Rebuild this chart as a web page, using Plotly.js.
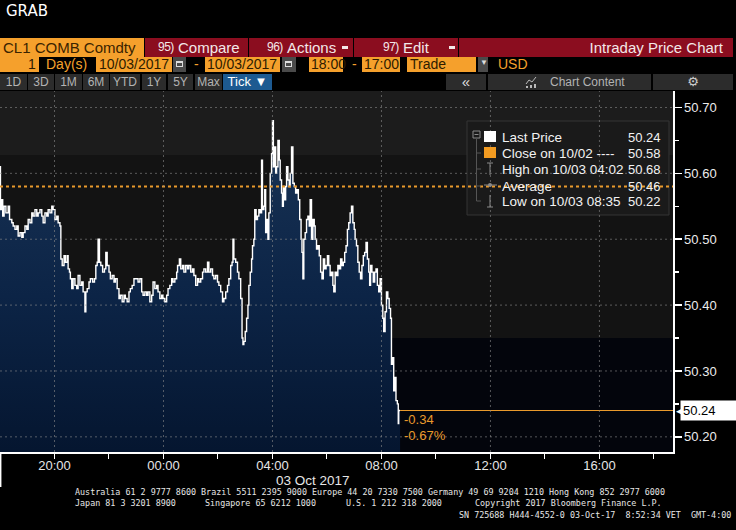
<!DOCTYPE html>
<html><head><meta charset="utf-8">
<script src="https://cdn.plot.ly/plotly-3.0.1.min.js"></script>
<style>
html,body{margin:0;padding:0;background:#000;width:736px;height:530px;overflow:hidden;font-family:"Liberation Sans",Arial,sans-serif;}
#chart{position:absolute;left:0;top:0;width:736px;height:530px;}
.b{position:absolute;box-sizing:border-box;white-space:nowrap;}
.t{position:absolute;white-space:nowrap;}
.r1{top:38px;height:19px;background:#8b0d1f;}
.r1t{top:38px;line-height:19px;font-size:15px;color:#f3e8e8;}
.r1n{top:38px;line-height:19px;font-size:12px;color:#f3e8e8;letter-spacing:-0.5px;}
.or{top:57px;height:15px;background:#f5a02c;}
.ort{top:57px;line-height:15px;font-size:14px;color:#2e1c00;}
.gr{top:57px;height:15px;background:#4a4a4a;}
.ot{top:57px;line-height:15px;font-size:14px;color:#f5a02c;}
.btn{top:74px;height:16px;background:#2c2c2c;color:#b3b3b3;font-size:12px;line-height:16px;text-align:center;}
.ft{font-family:"DejaVu Sans Mono",monospace;font-size:8.4px;color:#e6e6e6;}
</style></head><body>
<div id="chart"></div>

<div class="t" style="left:6px;top:2px;font:15px 'DejaVu Sans';color:#fff">GRAB</div>

<div class="b" style="left:0;top:38px;width:144px;height:19px;background:#f5a02c"></div>
<div class="t" style="left:3px;top:38px;line-height:19px;font-size:15px;color:#3a2300">CL1 COMB Comdty</div>
<div class="b r1" style="left:145px;width:103px"></div>
<div class="b r1" style="left:249px;width:104px"></div>
<div class="b r1" style="left:354px;width:104px"></div>
<div class="b r1" style="left:459px;width:274px"></div>
<div class="t r1n" style="left:158px">95)</div><div class="t r1t" style="left:178px">Compare</div>
<div class="t r1n" style="left:267px">96)</div><div class="t r1t" style="left:287px">Actions</div>
<div class="b" style="left:342px;top:46px;width:6px;height:3px;background:#f3e8e8"></div>
<div class="t r1n" style="left:383px">97)</div><div class="t r1t" style="left:403px">Edit</div>
<div class="b" style="left:449px;top:46px;width:6px;height:3px;background:#f3e8e8"></div>
<div class="t r1t" style="right:13px">Intraday Price Chart</div>

<div class="b or" style="left:0;width:39px"></div><div class="t ort" style="left:28px">1</div>
<div class="t ot" style="left:46px">Day(s)</div>
<div class="b or" style="left:96px;width:76px"></div><div class="t ort" style="left:99px">10/03/2017</div>
<div class="b gr" style="left:173px;width:13px"></div><div class="b" style="left:176px;top:61px;width:7px;height:6px;border:1px solid #ddd;border-top-width:2px"></div>
<div class="t ot" style="left:194px">-</div>
<div class="b or" style="left:205px;width:75px"></div><div class="t ort" style="left:207px">10/03/2017</div>
<div class="b gr" style="left:282px;width:14px"></div><div class="b" style="left:285px;top:61px;width:7px;height:6px;border:1px solid #ddd;border-top-width:2px"></div>
<div class="b or" style="left:309px;width:34px"></div><div class="t ort" style="left:311px">18:00</div>
<div class="t ot" style="left:352px">-</div>
<div class="b or" style="left:362px;width:38px"></div><div class="t ort" style="left:364px">17:00</div>
<div class="b or" style="left:407px;width:69px"></div><div class="t ort" style="left:410px">Trade</div>
<div class="b gr" style="left:478px;width:10px"></div><div class="t" style="left:480px;top:58px;font-size:8px;color:#ddd">▼</div>
<div class="t ot" style="left:498px">USD</div>

<div class="b btn" style="left:0;width:27px">1D</div>
<div class="b btn" style="left:28px;width:26px">3D</div>
<div class="b btn" style="left:55px;width:27px">1M</div>
<div class="b btn" style="left:83px;width:26px">6M</div>
<div class="b btn" style="left:110px;width:30px">YTD</div>
<div class="b btn" style="left:142px;width:24px">1Y</div>
<div class="b btn" style="left:168px;width:25px">5Y</div>
<div class="b btn" style="left:195px;width:27px">Max</div>
<div class="b btn" style="left:223px;width:49px;background:#1d5a91;color:#fff;font-size:13px">Tick ▼</div>
<div class="b btn" style="left:446px;width:40px;color:#ddd;font-size:15px">«</div>
<div class="b btn" style="left:488px;width:163px;text-align:left;padding-left:62px;font-size:12px">Chart Content</div>
<svg style="position:absolute;left:525px;top:76px" width="12" height="12"><polyline points="1,8 4,4 7,6 11,1" fill="none" stroke="#bbb" stroke-width="1"/><rect x="1" y="10" width="2" height="2" fill="#bbb"/><rect x="5" y="9" width="2" height="3" fill="#bbb"/><rect x="9" y="8" width="2" height="4" fill="#bbb"/></svg>
<div class="b btn" style="left:653px;width:80px;color:#ccc;font-size:13px;font-family:'DejaVu Sans'">⚙</div>

<div class="t ft" style="left:75px;top:487px">Australia 61 2 9777 8600 Brazil 5511 2395 9000 Europe 44 20 7330 7500 Germany 49 69 9204 1210 Hong Kong 852 2977 6000</div>
<div class="t ft" style="left:75px;top:498px">Japan 81 3 3201 8900</div>
<div class="t ft" style="left:205px;top:498px">Singapore 65 6212 1000</div>
<div class="t ft" style="left:346px;top:498px">U.S. 1 212 318 2000</div>
<div class="t ft" style="left:475px;top:498px">Copyright 2017 Bloomberg Finance L.P.</div>
<div class="t ft" style="left:459px;top:510px">SN 725688 H444-4552-0 03-Oct-17&nbsp; 8:52:34 VET&nbsp; GMT-4:00</div>

<script>
// ---------- data (minutes after 2017-10-02 18:00, price) ----------
const tickMinutes = [
  0,1,4,6,9,13,18,21,26,29, 33,37,40,44,48,51,55,59,62,66,
  70,73,77,81,84,88,92,95,99,103, 106,110,114,117,121,125,128,132,134,137,
  141,144,148,150,153,155,158,161,165,169, 172,176,180,183,187,189,192,196,199,204,
  208,211,214,216,219,222,226,230,233,236, 240,243,247,251,254,258,262,265,269,273,
  276,280,284,287,291,295,
  301,304,308,312,315,319,323,326,330,334, 337,341,345,348,352,356,359,363,367,370,
  374,378,381,385,389,391,395,398,402,405, 409,413,416,420,424,427,431,435,438,442,
  446,449,453,457,460,464,468,471,475,479, 482,486,490,493,497,501,504,508,511,513,
  515,519,523,526,530,533,535,537,540,543, 546,548,551,554,556,559,561,564,567,570,
  573,576,578,581,583,585,588,590,592,
  595,598,600,602,605,607,609,612,615,617, 620,622,624,627,629,631,634,637,639,642,
  645,648,651,654,657,660,663,665,667,669, 672,675,678,681,683,686,689,692,694,697,
  700,703,706,709,712,715,718,721,724,727, 730,733,735,738,741,744,747,750,753,756,
  759,762,765,768,771,774,777,780,782,785, 788,791,794,797,800,803,806,809,812,814,
  816,819,822,825,828,831,834,837,840,843, 845,848,851,854,857,860,862,865,867,870,
  872,875,877,878,881
];
const tickPrices = [
  50.61,50.545,50.56,50.535,50.55,50.54,50.55,50.53,50.525,50.52, 50.515,50.52,50.505,50.51,50.503,50.51,50.52,50.515,50.53,50.525,
  50.54,50.535,50.545,50.535,50.54,50.545,50.535,50.525,50.54,50.535, 50.545,50.54,50.55,50.545,50.53,50.535,50.525,50.52,50.47,50.46,
  50.475,50.465,50.475,50.455,50.45,50.44,50.425,50.44,50.43,50.425, 50.445,50.43,50.435,50.42,50.39,50.42,50.425,50.435,50.44,50.435,
  50.44,50.46,50.465,50.50,50.465,50.46,50.45,50.455,50.48,50.46, 50.45,50.44,50.445,50.435,50.44,50.425,50.41,50.415,50.405,50.415,
  50.41,50.405,50.42,50.425,50.43,50.44,
  50.44,50.435,50.44,50.42,50.415,50.42,50.415,50.42,50.405,50.415, 50.435,50.425,50.43,50.42,50.41,50.415,50.41,50.405,50.415,50.425,
  50.43,50.44,50.435,50.44,50.45,50.46,50.47,50.455,50.46,50.45, 50.46,50.455,50.46,50.45,50.455,50.445,50.43,50.44,50.435,50.44,
  50.45,50.455,50.45,50.465,50.45,50.455,50.445,50.44,50.445,50.435, 50.43,50.42,50.405,50.41,50.42,50.43,50.44,50.46,50.465,50.50,
  50.47,50.465,50.45,50.44,50.41,50.35,50.34,50.345,50.36,50.38, 50.40,50.43,50.45,50.47,50.49,50.50,50.545,50.53,50.535,50.545,
  50.54,50.62,50.545,50.55,50.575,50.51,50.53,50.50,50.54,
  50.60,50.63,50.68,50.61,50.64,50.60,50.61,50.65,50.62,50.59, 50.57,50.55,50.58,50.56,50.58,50.61,50.59,50.58,50.60,50.64,
  50.585,50.58,50.57,50.575,50.56,50.53,50.50,50.48,50.44,50.50, 50.51,50.53,50.535,50.52,50.56,50.50,50.53,50.52,50.50,50.485,
  50.49,50.475,50.45,50.44,50.47,50.455,50.46,50.475,50.46,50.445, 50.45,50.43,50.42,50.45,50.445,50.46,50.455,50.47,50.46,50.465,
  50.48,50.49,50.515,50.525,50.54,50.55,50.525,50.515,50.50,50.49, 50.465,50.45,50.44,50.46,50.475,50.48,50.495,50.47,50.45,50.43,
  50.46,50.45,50.435,50.45,50.455,50.43,50.42,50.44,50.40,50.38, 50.36,50.39,50.42,50.41,50.395,50.38,50.31,50.32,50.27,50.29,
  50.255,50.25,50.22,50.24,50.24
];
const closePrev = 50.58;
const lastPrice = 50.24;
const legendLabels = ['Last Price','Close on 10/02 ----','High on 10/03 04:02','Average','Low on 10/03 08:35'];
const legendValues = ['50.24','50.58','50.68','50.46','50.22'];
const xTickTimes = ['2017-10-02 20:00','2017-10-03 00:00','2017-10-03 04:00','2017-10-03 08:00','2017-10-03 12:00','2017-10-03 16:00'];
const xTickLabels = ['20:00','00:00','04:00','08:00','12:00','16:00'];
const yTickVals = [50.2,50.3,50.4,50.5,50.6,50.7];
const dateLabel = '03 Oct 2017';
const X0 = '2017-10-02 18:00', X1 = '2017-10-03 18:42';

// ---------- build ----------
function tstr(m){const d=new Date(Date.UTC(2017,9,2,18,0)+m*60000);return d.toISOString().slice(0,16).replace('T',' ');}
const times = tickMinutes.map(tstr);
const lastTime = times[times.length-1];

const PR=673, PT=91, PB=452;
const px = x => x/PR;
const py = y => (PB-y)/(PB-PT);
const FONT = '"Liberation Sans", Arial, sans-serif';
const ORANGE = '#e99a2c';

const traces = [
  {x:times, y:tickPrices, type:'scatter', mode:'lines', line:{color:'#ffffff',width:1.4,shape:'hv'},
   fill:'tozeroy', fillgradient:{type:'vertical', start:50.18, stop:50.70,
     colorscale:[[0,'#051630'],[0.45,'#0c2446'],[1,'#1a3557']]}, hoverinfo:'skip'},
  {x:[X0,X1], y:[closePrev,closePrev], type:'scatter', mode:'lines', line:{color:ORANGE,width:2,dash:'dot'}, hoverinfo:'skip'},
  {x:[lastTime,X1], y:[lastPrice,lastPrice], type:'scatter', mode:'lines', line:{color:ORANGE,width:1}, hoverinfo:'skip'}
];

const shapes = [
  {type:'rect',layer:'below',xref:'paper',yref:'y',x0:0,x1:1,y0:50.628,y1:50.76,fillcolor:'#1c1c1c',line:{width:0}},
  {type:'rect',layer:'below',xref:'paper',yref:'y',x0:0,x1:1,y0:50.35,y1:50.628,fillcolor:'#131313',line:{width:0}},
  {type:'rect',layer:'below',xref:'paper',yref:'y',x0:0,x1:1,y0:50.1,y1:50.35,fillcolor:'#03050c',line:{width:0}},
  // legend box
  {type:'rect',layer:'below',xref:'paper',yref:'paper',x0:px(467),x1:px(669),y0:py(215),y1:py(121),fillcolor:'#1a1a1a',line:{color:'#353535',width:1}}
];
const GRID = {color:'rgba(140,140,140,0.6)',width:1,dash:'2px,3px'};
xTickTimes.forEach(t=>shapes.push({type:'line',layer:'above',xref:'x',yref:'paper',x0:t,x1:t,y0:0,y1:1,line:GRID}));
yTickVals.forEach(v=>shapes.push({type:'line',layer:'above',xref:'paper',yref:'y',x0:0,x1:1,y0:v,y1:v,line:GRID}));
// left date divider
shapes.push({type:'line',xref:'paper',yref:'paper',x0:0.001,x1:0.001,y0:0,y1:py(487),line:{color:'#fff',width:1.5}});
// legend icons
const G='#8a8a8a';
const rowY=[137,153,169,186,201];
shapes.push({type:'rect',xref:'paper',yref:'paper',x0:px(473),x1:px(480),y0:py(138),y1:py(131),line:{color:G,width:1}});
shapes.push({type:'line',xref:'paper',yref:'paper',x0:px(474.5),x1:px(478.5),y0:py(134.5),y1:py(134.5),line:{color:G,width:1}});
shapes.push({type:'line',xref:'paper',yref:'paper',x0:px(476.5),x1:px(476.5),y0:py(139),y1:py(201),line:{color:'#555',width:1}});
rowY.slice(1).forEach(y=>shapes.push({type:'line',xref:'paper',yref:'paper',x0:px(476.5),x1:px(481),y0:py(y),y1:py(y),line:{color:'#555',width:1}}));
shapes.push({type:'rect',xref:'paper',yref:'paper',x0:px(484),x1:px(496),y0:py(142),y1:py(131),fillcolor:'#fff',line:{width:0}});
shapes.push({type:'rect',xref:'paper',yref:'paper',x0:px(484),x1:px(496),y0:py(158),y1:py(147),fillcolor:'#f29b21',line:{width:0}});
// high icon
shapes.push({type:'line',xref:'paper',yref:'paper',x0:px(490),x1:px(490),y0:py(175),y1:py(163),line:{color:G,width:1}});
shapes.push({type:'line',xref:'paper',yref:'paper',x0:px(487),x1:px(493),y0:py(163),y1:py(163),line:{color:G,width:1}});
// average icon
shapes.push({type:'line',xref:'paper',yref:'paper',x0:px(484),x1:px(497),y0:py(185),y1:py(185),line:{color:G,width:1}});
shapes.push({type:'circle',xref:'paper',yref:'paper',x0:px(488),x1:px(492),y0:py(187),y1:py(183),fillcolor:G,line:{width:0}});
// low icon
shapes.push({type:'line',xref:'paper',yref:'paper',x0:px(490),x1:px(490),y0:py(207),y1:py(195),line:{color:G,width:1}});
shapes.push({type:'line',xref:'paper',yref:'paper',x0:px(487),x1:px(493),y0:py(207),y1:py(207),line:{color:G,width:1}});

const annotations = [];
legendLabels.forEach((l,i)=>{
  annotations.push({xref:'paper',yref:'paper',x:px(500),y:py(rowY[i]),xanchor:'left',yanchor:'middle',text:l,showarrow:false,font:{family:FONT,size:13.5,color:'#f2f2f2'}});
  annotations.push({xref:'paper',yref:'paper',x:px(663),y:py(rowY[i]),xanchor:'right',yanchor:'middle',text:legendValues[i],showarrow:false,font:{family:FONT,size:13,color:'#f2f2f2'}});
});
const chg = lastPrice - closePrev;
annotations.push({xref:'x',yref:'y',x:lastTime,y:lastPrice,xanchor:'left',yanchor:'middle',xshift:2,yshift:-9,text:(chg<0?'-':'+')+Math.abs(chg).toFixed(2),showarrow:false,font:{family:FONT,size:13,color:ORANGE}});
annotations.push({xref:'x',yref:'y',x:lastTime,y:lastPrice,xanchor:'left',yanchor:'middle',xshift:2,yshift:-25,text:(chg<0?'-':'+')+Math.abs(chg/closePrev*100).toFixed(2)+'%',showarrow:false,font:{family:FONT,size:13,color:ORANGE}});
annotations.push({xref:'paper',yref:'y',x:1,y:lastPrice,xanchor:'left',yanchor:'middle',xshift:7,text:lastPrice.toFixed(2),showarrow:false,bgcolor:'#ffffff',borderpad:2,width:52,align:'left',font:{family:FONT,size:13,color:'#000'}});
annotations.push({xref:'paper',yref:'y',x:1,y:lastPrice,xanchor:'left',yanchor:'middle',xshift:1,text:'◀',showarrow:false,font:{family:'DejaVu Sans',size:9,color:'#fff'}});
annotations.push({xref:'paper',yref:'paper',x:px(313),y:py(481),xanchor:'center',yanchor:'middle',text:dateLabel,showarrow:false,font:{family:FONT,size:13.5,color:'#e6e6e6'}});

const layout = {
  width:736, height:530, margin:{l:0,r:736-PR,t:PT,b:530-PB,pad:0},
  paper_bgcolor:'rgba(0,0,0,0)', plot_bgcolor:'#000', showlegend:false,
  xaxis:{type:'date', range:[X0,X1], tickvals:xTickTimes, ticktext:xTickLabels, ticks:'outside', ticklen:5, tickcolor:'#fff',
    ticklabelstandoff:-4,
    showgrid:false, zeroline:false, showline:true, linecolor:'#fff', linewidth:1.5,
    tickfont:{family:FONT,size:13,color:'#e6e6e6'},
    minor:{tick0:X0, dtick:2*3600000, ticks:'outside', ticklen:5, tickcolor:'#fff', showgrid:false}, fixedrange:true},
  yaxis:{side:'right', range:[50.177,50.725], tickvals:yTickVals, tickformat:'.2f', ticks:'outside', ticklen:7, tickwidth:1.5, tickcolor:'#fff',
    showline:true, linecolor:'#fff', linewidth:1.5, showgrid:false, zeroline:false,
    tickfont:{family:FONT,size:13,color:'#ececec'},
    minor:{tick0:50.15, dtick:0.1, ticks:'outside', ticklen:4, tickcolor:'#fff', showgrid:false}, fixedrange:true},
  shapes:shapes, annotations:annotations
};
Plotly.newPlot('chart', traces, layout, {displayModeBar:false, staticPlot:true});
</script>
</body></html>
